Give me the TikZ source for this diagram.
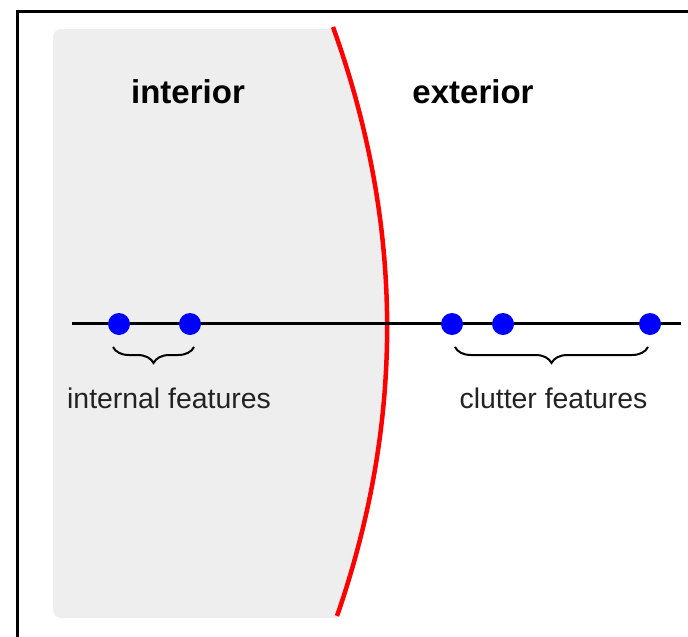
\documentclass[tikz,border=0pt]{standalone}
\usepackage{fontspec}
\setmainfont{Liberation Sans}
\usetikzlibrary{decorations.pathreplacing}
\definecolor{regiongray}{HTML}{EEEEEE}
\definecolor{dotblue}{HTML}{0000FF}
\definecolor{labelgray}{HTML}{222222}
\tikzset{
  feat/.style={circle, fill=dotblue, minimum size=22pt, inner sep=0pt},
  heading/.style={inner sep=0pt, font=\fontsize{33}{38}\selectfont\bfseries},
  caption/.style={inner sep=0pt, text=labelgray, font=\fontsize{28.4}{34}\selectfont},
  bracepath/.style={decorate, decoration={brace, mirror, amplitude=16pt}, line width=2pt},
}
\begin{document}
\begin{tikzpicture}[x=1pt,y=1pt]
\useasboundingbox (0,0) rectangle (688,-637);
% interior region
\fill[regiongray] (333,-29) .. controls (404,-224) and (405,-420) .. (337,-618)
  -- (61,-618) to[out=180,in=-90] (53,-610) -- (53,-37) to[out=90,in=180] (61,-29) -- cycle;
% frame
\draw[line width=3pt] (17,-640) -- (17,-11) -- (690,-11);
% boundary curve
\draw[red, line width=4.5pt] (333,-27) .. controls (404,-224) and (405,-420) .. (337,-616);
% axis
\coordinate (axL) at (72,-323);
\coordinate (axR) at (681,-323);
\draw[line width=3pt] (axL) -- (axR);
% features
\node[feat] (d1) at (119,-324) {};
\node[feat] (d2) at (190,-324) {};
\node[feat] (d3) at (452,-324) {};
\node[feat] (d4) at (503,-324) {};
\node[feat] (d5) at (650,-324) {};
% braces
\coordinate (b1a) at (113,-347);
\coordinate (b1b) at (194,-347);
\coordinate (b2a) at (455,-347);
\coordinate (b2b) at (648,-347);
\draw[bracepath] (b1a) -- (b1b);
\draw[bracepath] (b2a) -- (b2b);
% labels
\node[heading] (tint) at (188,-92) {interior};
\node[heading] (text) at (473,-92) {exterior};
\node[caption] (lint) at (169,-398) {internal features};
\node[caption] (lclut) at (553.5,-398) {clutter features};
\end{tikzpicture}
\end{document}
